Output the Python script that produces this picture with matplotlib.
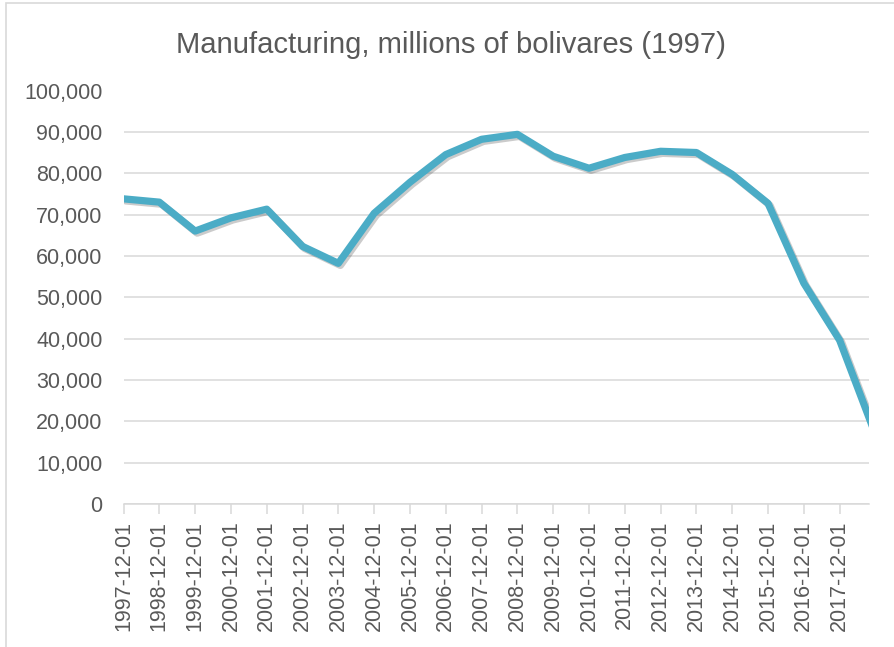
import matplotlib
matplotlib.use("Agg")
import matplotlib.pyplot as plt
import matplotlib.patheffects as pe
from matplotlib.patches import Rectangle
from matplotlib.ticker import FuncFormatter, MultipleLocator

plt.rcParams['font.family'] = ['Liberation Sans', 'DejaVu Sans']

dates = ["1997-12-01", "1998-12-01", "1999-12-01", "2000-12-01", "2001-12-01",
         "2002-12-01", "2003-12-01", "2004-12-01", "2005-12-01", "2006-12-01",
         "2007-12-01", "2008-12-01", "2009-12-01", "2010-12-01", "2011-12-01",
         "2012-12-01", "2013-12-01", "2014-12-01", "2015-12-01", "2016-12-01",
         "2017-12-01", "2018-12-01"]
values = [73800, 73000, 66000, 69200, 71300, 62300, 58200, 70300, 77800, 84500,
          88200, 89400, 84100, 81200, 83800, 85300, 85000, 79700, 72700, 53400,
          39600, 16800]
tick_labels = dates[:-1]

W, H = 894, 647
fig = plt.figure(figsize=(W / 100, H / 100), dpi=100)
fig.patch.set_facecolor('white')

# chart border (only top and left visible in the crop)
fig.patches.append(Rectangle((6 / W, -0.1), 1.2, (H - 3) / H + 0.1, transform=fig.transFigure,
                             fill=False, edgecolor='#d9d9d9', linewidth=1.2))

left, right, top, bottom = 123.5, 869, 90.5, 504
ax = fig.add_axes([left / W, 1 - bottom / H, (right - left) / W, (bottom - top) / H])

x = list(range(len(values)))
ax.plot(x, values, color='#4bacc6', linewidth=5.2, solid_joinstyle='round',
        solid_capstyle='round', zorder=3,
        path_effects=[pe.SimpleLineShadow(offset=(1.5, -1.5), shadow_color='#303030', alpha=0.25),
                      pe.Normal()])

ax.set_xlim(0, 20.82)
ax.set_ylim(0, 100000)
ax.yaxis.set_major_locator(MultipleLocator(10000))
ax.yaxis.set_major_formatter(FuncFormatter(lambda v, p: f"{int(v):,}"))
ax.grid(axis='y', color='#d9d9d9', linewidth=1.1)
ax.set_axisbelow(True)

ax.set_xticks(range(len(tick_labels)))
ax.set_xticklabels(tick_labels, rotation=90)

for s in ['top', 'right', 'left']:
    ax.spines[s].set_visible(False)
ax.spines['bottom'].set_color('#d9d9d9')
ax.spines['bottom'].set_linewidth(1.1)

ax.tick_params(axis='y', length=0, pad=15, labelsize=15.5, labelcolor='#595959')
ax.tick_params(axis='x', length=7, width=1.1, color='#d9d9d9', pad=5,
               labelsize=15.5, labelcolor='#595959')

fig.text(451.5 / W, 1 - 45 / H, "Manufacturing, millions of bolivares (1997)",
         ha='center', va='center', fontsize=21.1, color='#595959')

fig.savefig("out.png", dpi=100, facecolor='white')
